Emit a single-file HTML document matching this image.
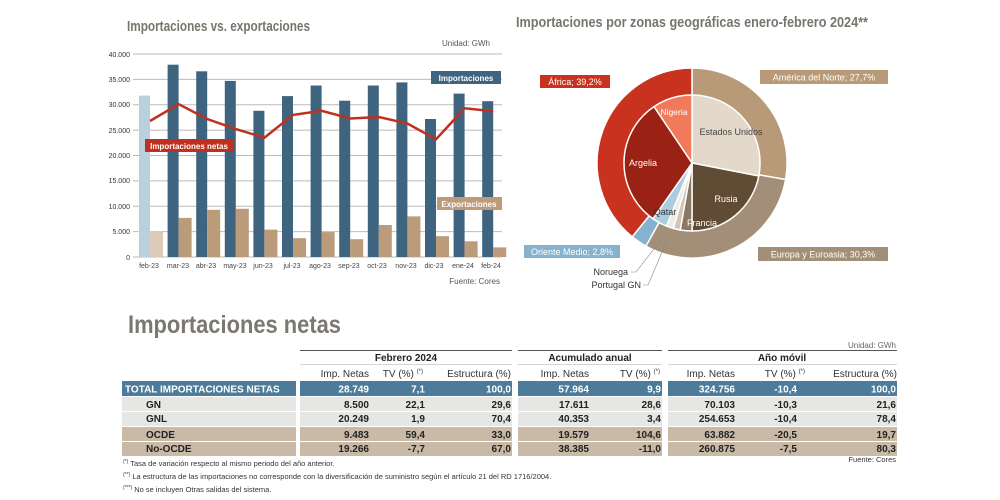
<!DOCTYPE html>
<html><head><meta charset="utf-8"><style>
body{margin:0;background:#fff;width:1000px;height:500px;overflow:hidden;font-family:"Liberation Sans",sans-serif}
svg{position:absolute;left:0;top:0}
</style></head><body>
<svg width="1000" height="500" font-family="Liberation Sans, sans-serif">
<text x="127" y="31" font-size="15" font-weight="bold" fill="#77756d" textLength="183" lengthAdjust="spacingAndGlyphs">Importaciones vs. exportaciones</text>
<text x="516" y="27" font-size="15" font-weight="bold" fill="#77756d" textLength="352" lengthAdjust="spacingAndGlyphs">Importaciones por zonas geográficas enero-febrero 2024**</text>
<text x="490" y="46" font-size="8" fill="#555" text-anchor="end">Unidad: GWh</text>
<g stroke="#bbb" stroke-width="1">
<line x1="133" x2="502" y1="54" y2="54"/><line x1="133" x2="502" y1="79.4" y2="79.4"/><line x1="133" x2="502" y1="104.8" y2="104.8"/><line x1="133" x2="502" y1="130.1" y2="130.1"/><line x1="133" x2="502" y1="155.5" y2="155.5"/><line x1="133" x2="502" y1="180.9" y2="180.9"/><line x1="133" x2="502" y1="206.3" y2="206.3"/><line x1="133" x2="502" y1="231.6" y2="231.6"/><line x1="133" x2="502" y1="257" y2="257"/>
</g>
<g font-size="7" fill="#333" text-anchor="end">
<text x="130" y="57">40.000</text><text x="130" y="82">35.000</text><text x="130" y="107">30.000</text><text x="130" y="133">25.000</text><text x="130" y="158">20.000</text><text x="130" y="183">15.000</text><text x="130" y="209">10.000</text><text x="130" y="234">5.000</text><text x="130" y="260">0</text>
</g>
<rect x="139" y="95.6" width="11" height="161.4" fill="#b9d0dd"/><rect x="150" y="231.6" width="13" height="25.4" fill="#dccbb8"/>
<g fill="#3e6480">
<rect x="167.6" y="64.7" width="11" height="192.3"/><rect x="196.2" y="71.3" width="11" height="185.7"/><rect x="224.8" y="80.9" width="11" height="176.1"/><rect x="253.4" y="110.8" width="11" height="146.2"/><rect x="282" y="96.1" width="11" height="160.9"/><rect x="310.6" y="85.5" width="11" height="171.5"/><rect x="339.2" y="100.7" width="11" height="156.3"/><rect x="367.8" y="85.5" width="11" height="171.5"/><rect x="396.4" y="82.4" width="11" height="174.6"/><rect x="425" y="119" width="11" height="138"/><rect x="453.6" y="93.6" width="11" height="163.4"/><rect x="482.2" y="101.2" width="11" height="155.8"/>
</g>
<g fill="#bb9b79">
<rect x="178.6" y="217.9" width="13" height="39.1"/><rect x="207.2" y="209.8" width="13" height="47.2"/><rect x="235.8" y="208.8" width="13" height="48.2"/><rect x="264.4" y="229.6" width="13" height="27.4"/><rect x="293" y="238.2" width="13" height="18.8"/><rect x="321.6" y="232.1" width="13" height="24.9"/><rect x="350.2" y="239.2" width="13" height="17.8"/><rect x="378.8" y="225" width="13" height="32"/><rect x="407.4" y="216.4" width="13" height="40.6"/><rect x="436" y="236.2" width="13" height="20.8"/><rect x="464.6" y="241.3" width="13" height="15.7"/><rect x="493.2" y="247.4" width="13" height="9.6"/>
</g>
<polyline fill="none" stroke="#c0301e" stroke-width="2.5" points="150,121 178.6,104.2 207.2,119 235.8,129.1 264.4,137.7 293,114.9 321.6,110.8 350.2,118.5 378.8,117 407.4,123.5 436,139.3 464.6,108.3 493.2,111.3"/>
<g font-size="7" fill="#444" text-anchor="middle">
<text x="149" y="268">feb-23</text><text x="178" y="268">mar-23</text><text x="206" y="268">abr-23</text><text x="235" y="268">may-23</text><text x="263" y="268">jun-23</text><text x="292" y="268">jul-23</text><text x="320" y="268">ago-23</text><text x="349" y="268">sep-23</text><text x="377" y="268">oct-23</text><text x="406" y="268">nov-23</text><text x="434" y="268">dic-23</text><text x="463" y="268">ene-24</text><text x="491" y="268">feb-24</text>
</g>
<text x="500" y="284" font-size="8" fill="#555" text-anchor="end">Fuente: Cores</text>
<rect x="431" y="71" width="70" height="13" fill="#3e6480"/><text x="466" y="81" font-size="8" font-weight="bold" fill="#fff" text-anchor="middle">Importaciones</text>
<rect x="145" y="139" width="89" height="13" fill="#c0301e"/><text x="189" y="149" font-size="8" font-weight="bold" fill="#fff" text-anchor="middle">Importaciones netas</text>
<rect x="437" y="197" width="65" height="13" fill="#bb9b79"/><text x="469" y="207" font-size="8" font-weight="bold" fill="#fff" text-anchor="middle">Exportaciones</text>

<g stroke="#fff" stroke-width="1.5">
<path d="M692,163 L692,68 A95,95 0 0 1 785.6,179.5 Z" fill="#b89a78"/>
<path d="M692,163 L785.6,179.5 A95,95 0 0 1 645.9,246.1 Z" fill="#a38f78"/>
<path d="M692,163 L645.9,246.1 A95,95 0 0 1 632.2,236.8 Z" fill="#85b3cf"/>
<path d="M692,163 L632.2,236.8 A95,95 0 0 1 692,68 Z" fill="#c8321e"/>
<path d="M692,163 L692,95 A68,68 0 0 1 758.8,176 Z" fill="#e3d8ca"/>
<path d="M692,163 L758.8,176 A68,68 0 0 1 692,231 Z" fill="#604b34"/>
<path d="M692,163 L692,231 A68,68 0 0 1 680.2,230 Z" fill="#8c7762"/>
<path d="M692,163 L680.2,230 A68,68 0 0 1 673.3,228.4 Z" fill="#cfc5b8"/>
<path d="M692,163 L673.3,228.4 A68,68 0 0 1 666.5,226 Z" fill="#eeeae4"/>
<path d="M692,163 L666.5,226 A68,68 0 0 1 653,218.7 Z" fill="#aacde0"/>
<path d="M692,163 L653,218.7 A68,68 0 0 1 654,106.6 Z" fill="#9a2214"/>
<path d="M692,163 L654,106.6 A68,68 0 0 1 692,95 Z" fill="#f17a5b"/>
</g>
<g font-size="9" text-anchor="middle">
<text x="731" y="135" fill="#444">Estados Unidos</text>
<text x="726" y="202" fill="#fff">Rusia</text>
<text x="702" y="226" fill="#fff">Francia</text>
<text x="665" y="215" fill="#333">Qatar</text>
<text x="643" y="166" fill="#fff">Argelia</text>
<text x="674" y="115" fill="#fff" font-size="8.5">Nigeria</text>
</g>
<rect x="540" y="75" width="70" height="13" fill="#c8321e"/><text x="575" y="85" font-size="9" fill="#fff" text-anchor="middle">África; 39,2%</text>
<rect x="760" y="70" width="128" height="14" fill="#b89a78"/><text x="824" y="80.5" font-size="9" fill="#fff" text-anchor="middle">América del Norte; 27,7%</text>
<rect x="524" y="245" width="96" height="13" fill="#85b3cf"/><text x="572" y="255" font-size="9" fill="#fff" text-anchor="middle">Oriente Medio; 2,8%</text>
<rect x="758" y="247" width="130" height="14" fill="#a38f78"/><text x="823" y="257.5" font-size="9" fill="#fff" text-anchor="middle">Europa y Euroasia; 30,3%</text>
<polyline points="631,272 636,272 664,236" fill="none" stroke="#888" stroke-width="0.6"/>
<polyline points="643,285 648,285 668,238" fill="none" stroke="#888" stroke-width="0.6"/>
<text x="628" y="275" font-size="9" fill="#333" text-anchor="end">Noruega</text>
<text x="641" y="288" font-size="9" fill="#333" text-anchor="end">Portugal GN</text>

<text x="128" y="333" font-size="25" font-weight="bold" fill="#7a786f" textLength="213" lengthAdjust="spacingAndGlyphs">Importaciones netas</text>
<text x="896" y="348" font-size="8" fill="#666" text-anchor="end">Unidad: GWh</text>
<g stroke="#555" stroke-width="1"><line x1="300" x2="512" y1="350.5" y2="350.5"/><line x1="518" x2="662" y1="350.5" y2="350.5"/><line x1="668" x2="897" y1="350.5" y2="350.5"/></g>
<g stroke="#aaa" stroke-width="0.6"><line x1="300" x2="512" y1="364.5" y2="364.5"/><line x1="518" x2="662" y1="364.5" y2="364.5"/><line x1="668" x2="897" y1="364.5" y2="364.5"/></g>
<g font-size="10" font-weight="bold" fill="#222" text-anchor="middle"><text x="406" y="361">Febrero 2024</text><text x="590" y="361">Acumulado anual</text><text x="782" y="361">Año móvil</text></g>
<g font-size="10" fill="#333" text-anchor="end">
<text x="369" y="377">Imp. Netas</text><text x="423" y="377">TV (%) <tspan font-size="6" dy="-4">(*)</tspan></text><text x="511" y="377">Estructura (%)</text>
<text x="589" y="377">Imp. Netas</text><text x="660" y="377">TV (%) <tspan font-size="6" dy="-4">(*)</tspan></text>
<text x="735" y="377">Imp. Netas</text><text x="805" y="377">TV (%) <tspan font-size="6" dy="-4">(*)</tspan></text><text x="897" y="377">Estructura (%)</text>
</g>
<rect x="122" y="381" width="174" height="15" fill="#4c7c9a"/>
<rect x="300" y="381" width="212" height="15" fill="#4c7c9a"/><rect x="518" y="381" width="144" height="15" fill="#4c7c9a"/><rect x="668" y="381" width="229" height="15" fill="#4c7c9a"/>
<rect x="122" y="397" width="174" height="29" fill="#e6e6e4"/>
<rect x="300" y="397" width="212" height="29" fill="#e6e6e4"/><rect x="518" y="397" width="144" height="29" fill="#e6e6e4"/><rect x="668" y="397" width="229" height="29" fill="#e6e6e4"/>
<rect x="122" y="427" width="174" height="29" fill="#c9baa7"/>
<rect x="300" y="427" width="212" height="29" fill="#c9baa7"/><rect x="518" y="427" width="144" height="29" fill="#c9baa7"/><rect x="668" y="427" width="229" height="29" fill="#c9baa7"/>
<g stroke="#fff" stroke-width="1"><line x1="122" x2="897" y1="411.5" y2="411.5"/><line x1="122" x2="897" y1="441.5" y2="441.5"/></g>
<g font-size="10" font-weight="bold" fill="#222">
<text x="125" y="392.5" fill="#fff">TOTAL IMPORTACIONES NETAS</text>
<text x="146" y="408">GN</text><text x="146" y="422">GNL</text><text x="146" y="438">OCDE</text><text x="146" y="452">No-OCDE</text>
</g>
<g font-size="10" font-weight="bold" fill="#222" text-anchor="end">
<g fill="#fff"><text x="369" y="392.5">28.749</text><text x="425" y="392.5">7,1</text><text x="511" y="392.5">100,0</text><text x="589" y="392.5">57.964</text><text x="661" y="392.5">9,9</text><text x="735" y="392.5">324.756</text><text x="797" y="392.5">-10,4</text><text x="896" y="392.5">100,0</text></g>
<text x="369" y="408">8.500</text><text x="425" y="408">22,1</text><text x="511" y="408">29,6</text><text x="589" y="408">17.611</text><text x="661" y="408">28,6</text><text x="735" y="408">70.103</text><text x="797" y="408">-10,3</text><text x="896" y="408">21,6</text>
<text x="369" y="422">20.249</text><text x="425" y="422">1,9</text><text x="511" y="422">70,4</text><text x="589" y="422">40.353</text><text x="661" y="422">3,4</text><text x="735" y="422">254.653</text><text x="797" y="422">-10,4</text><text x="896" y="422">78,4</text>
<text x="369" y="438">9.483</text><text x="425" y="438">59,4</text><text x="511" y="438">33,0</text><text x="589" y="438">19.579</text><text x="661" y="438">104,6</text><text x="735" y="438">63.882</text><text x="797" y="438">-20,5</text><text x="896" y="438">19,7</text>
<text x="369" y="452">19.266</text><text x="425" y="452">-7,7</text><text x="511" y="452">67,0</text><text x="589" y="452">38.385</text><text x="661" y="452">-11,0</text><text x="735" y="452">260.875</text><text x="797" y="452">-7,5</text><text x="896" y="452">80,3</text>
</g>
<g font-size="7.5" fill="#333">
<text x="123" y="466"><tspan font-size="5" dy="-3">(*)</tspan><tspan dy="3"> Tasa de variación respecto al mismo periodo del año anterior.</tspan></text>
<text x="123" y="479"><tspan font-size="5" dy="-3">(**)</tspan><tspan dy="3"> La estructura de las importaciones no corresponde con la diversificación de suministro según el artículo 21 del RD 1716/2004.</tspan></text>
<text x="123" y="492"><tspan font-size="5" dy="-3">(***)</tspan><tspan dy="3"> No se incluyen Otras salidas del sistema.</tspan></text>
<text x="896" y="462" text-anchor="end">Fuente: Cores</text>
</g>
</svg>
</body></html>
